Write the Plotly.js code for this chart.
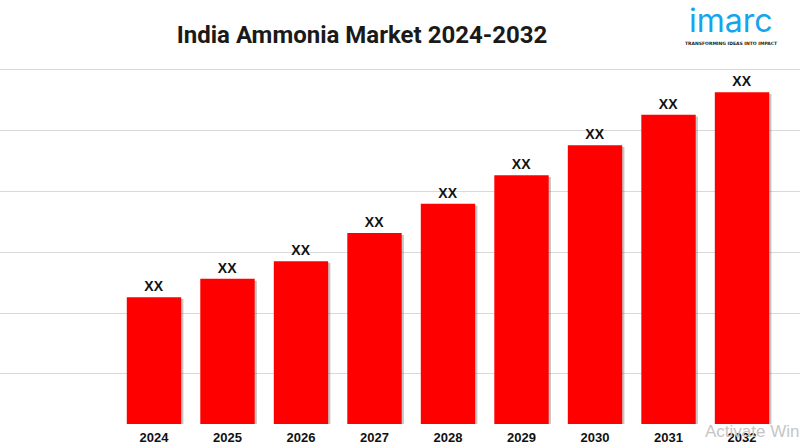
<!DOCTYPE html>
<html>
<head>
<meta charset="utf-8">
<script src="https://cdn.plot.ly/plotly-3.0.1.min.js"></script>
<style>html,body{margin:0;padding:0;background:#fff;}#chart{width:800px;height:445px;}</style>
</head>
<body>
<div id="chart"></div>
<script>
const years = ["2024","2025","2026","2027","2028","2029","2030","2031","2032"];
const marketValues = [2.08, 2.38, 2.67, 3.13, 3.61, 4.08, 4.57, 5.07, 5.44];
const valueLabels = ["XX","XX","XX","XX","XX","XX","XX","XX","XX"];
const chartTitle = "India Ammonia Market 2024-2032";

const shadow = {
  type: "bar",
  x: years,
  y: marketValues,
  base: -0.03,
  width: 0.74,
  offset: -0.37 + 0.03,
  marker: {color: "rgba(90,90,90,0.35)", line: {width: 0}},
  hoverinfo: "none"
};

const trace = {
  type: "bar",
  x: years,
  y: marketValues,
  text: valueLabels.map(t => "<b>" + t + "</b>"),
  textposition: "outside",
  cliponaxis: false,
  textfont: {family: "Liberation Sans, Arial, sans-serif", size: 14, color: "#111"},
  marker: {color: "#ff0000", line: {width: 0}},
  width: 0.74,
  offset: -0.37,
  hoverinfo: "none"
};

const layout = {
  width: 800, height: 445,
  margin: {l: 0, r: 0, t: 55, b: 21, pad: 0},
  paper_bgcolor: "#ffffff",
  plot_bgcolor: "#ffffff",
  showlegend: false,
  barmode: "overlay",
  xaxis: {
    type: "category",
    range: [-2.095, 8.789],
    showgrid: false, zeroline: false, showline: false,
    ticks: "",
    ticklabelstandoff: 4,
    tickfont: {family: "Liberation Sans, Arial, sans-serif", size: 13, color: "#111", weight: "bold"},
    fixedrange: true
  },
  yaxis: {
    range: [0, 6.05],
    tick0: 0.82, dtick: 1,
    showgrid: true, gridcolor: "#d9d9d9", gridwidth: 1,
    zeroline: false, showline: false, showticklabels: false, ticks: "",
    fixedrange: true
  },
  title: {
    text: "<b>" + chartTitle + "</b>",
    x: 362/800, xanchor: "center", xref: "paper",
    y: 1 - 35/445, yanchor: "middle", yref: "container",
    font: {family: "Roboto, sans-serif", size: 24, color: "#1a1a1a"}
  },
  annotations: [
    {text: "imarc", xref: "paper", yref: "paper", x: 731/800, y: (424-21)/369, xanchor: "center", yanchor: "middle",
     showarrow: false, borderpad: 0, font: {family: "Inter, Roboto, sans-serif", size: 32, color: "#14a5ee"}},
    {text: "<b>TRANSFORMING IDEAS INTO IMPACT</b>", xref: "paper", yref: "paper", x: 731/800, y: (424-43)/369, xanchor: "center", yanchor: "middle",
     showarrow: false, borderpad: 0, font: {family: "DejaVu Sans, sans-serif", size: 4.5, color: "#222"}},
    {text: "Activate Windows", xref: "paper", yref: "paper", x: 703/800, y: (424-432)/369, xanchor: "left", yanchor: "middle",
     showarrow: false, font: {family: "Liberation Sans, Arial, sans-serif", size: 17, color: "#c6c6c6"}}
  ]
};

Plotly.newPlot("chart", [shadow, trace], layout, {displayModeBar: false, staticPlot: true});
</script>
</body>
</html>
